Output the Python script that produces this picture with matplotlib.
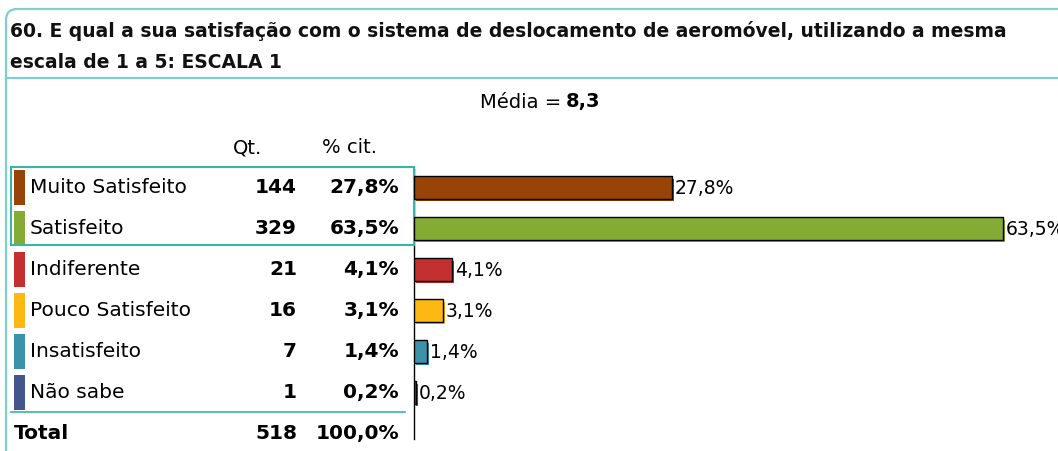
import matplotlib
matplotlib.use("Agg")
import matplotlib.pyplot as plt
import matplotlib.patheffects as pe
from matplotlib.patches import FancyBboxPatch, Rectangle

# ---- data ----
categories = ["Muito Satisfeito", "Satisfeito", "Indiferente", "Pouco Satisfeito", "Insatisfeito", "Não sabe"]
counts = [144, 329, 21, 16, 7, 1]
percents = [27.8, 63.5, 4.1, 3.1, 1.4, 0.2]
colors = ["#984307", "#84AC34", "#C4302F", "#FDB813", "#3A93AA", "#44548C"]
total_count = 518
total_pct = "100,0%"
title = "60. E qual a sua satisfação com o sistema de deslocamento de aeromóvel, utilizando a mesma\nescala de 1 a 5: ESCALA 1"
mean_label = "8,3"

W, H = 1058, 452
TEAL = "#7FCFCB"
TEAL2 = "#3BB3A9"
FS = 14.5

fig = plt.figure(figsize=(W / 100, H / 100), dpi=100)
plt.rcParams['font.family'] = ['DejaVu Sans']

# overlay axes in pixel coordinates
ov = fig.add_axes([0, 0, 1, 1])
ov.set_xlim(0, W)
ov.set_ylim(H, 0)
ov.axis("off")

# frame
frame = FancyBboxPatch((6, 10), W + 40, H + 40, boxstyle="round,pad=0,rounding_size=11",
                       fill=False, edgecolor=TEAL, lw=1.6)
ov.add_patch(frame)
ov.plot([6, W], [79, 79], color=TEAL, lw=1.6)

def fmt(v):
    return f"{v:.1f}".replace(".", ",") + "%"

# title
lines = title.split("\n")
ov.text(10, 31, lines[0], fontsize=13.5, fontweight="bold", va="center", ha="left", color="#111111")
ov.text(10, 62, lines[1], fontsize=13.5, fontweight="bold", va="center", ha="left", color="#111111")

# mean
ov.text(561, 102, "Média =", fontsize=14, ha="right", va="center")
ov.text(566, 102, mean_label, fontsize=14, ha="left", va="center", fontweight="bold")

# headers
ov.text(248, 148, "Qt.", fontsize=14, ha="center", va="center")
ov.text(350, 148, "% cit.", fontsize=14, ha="center", va="center")

row0, dy = 188, 41
for i, (c, n, p, col) in enumerate(zip(categories, counts, percents, colors)):
    y = row0 + i * dy
    ov.add_patch(Rectangle((14, y - 17.5), 11, 35, color=col, lw=0))
    ov.text(30, y, c, fontsize=FS, ha="left", va="center")
    ov.text(297, y, str(n), fontsize=FS, ha="right", va="center", fontweight="bold")
    ov.text(399, y, fmt(p), fontsize=FS, ha="right", va="center", fontweight="bold")

# total
ty = row0 + len(categories) * dy
ov.plot([11, 405], [413, 413], color=TEAL2, lw=1.2)
ov.text(14, ty, "Total", fontsize=FS, ha="left", va="center", fontweight="bold")
ov.text(297, ty, str(total_count), fontsize=FS, ha="right", va="center", fontweight="bold")
ov.text(399, ty, total_pct, fontsize=FS, ha="right", va="center", fontweight="bold")

# highlight box
ov.add_patch(Rectangle((11, 168), 403, 78, fill=False, edgecolor=TEAL2, lw=1.5, zorder=5))

# bar axes
px_per_pct = 9.28
x0 = 414
top, bottom = 168, 168 + len(categories) * dy
ax = fig.add_axes([x0 / W, 1 - bottom / H, (W - x0) / W, (bottom - top) / H])
ax.set_xlim(0, (W - x0) / px_per_pct)
ax.set_ylim(len(categories) - 0.5, -0.5)
ax.axis("off")
ax.patch.set_alpha(0)
ypos = list(range(len(categories)))
bars = ax.barh(ypos, percents, height=0.54, color=colors, edgecolor="black", lw=1.0)
for b, col in zip(bars, colors):
    b.set_path_effects([pe.SimplePatchShadow(offset=(1.5, -1.5), shadow_rgbFace=col, alpha=1.0), pe.Normal()])
for yv, p in zip(ypos, percents):
    ax.text(p + 0.3, yv, fmt(p), fontsize=13.5, ha="left", va="center")

# vertical axis line
ov.plot([x0, x0], [170, 440], color="black", lw=1.0)

fig.savefig("out.png", dpi=100)
